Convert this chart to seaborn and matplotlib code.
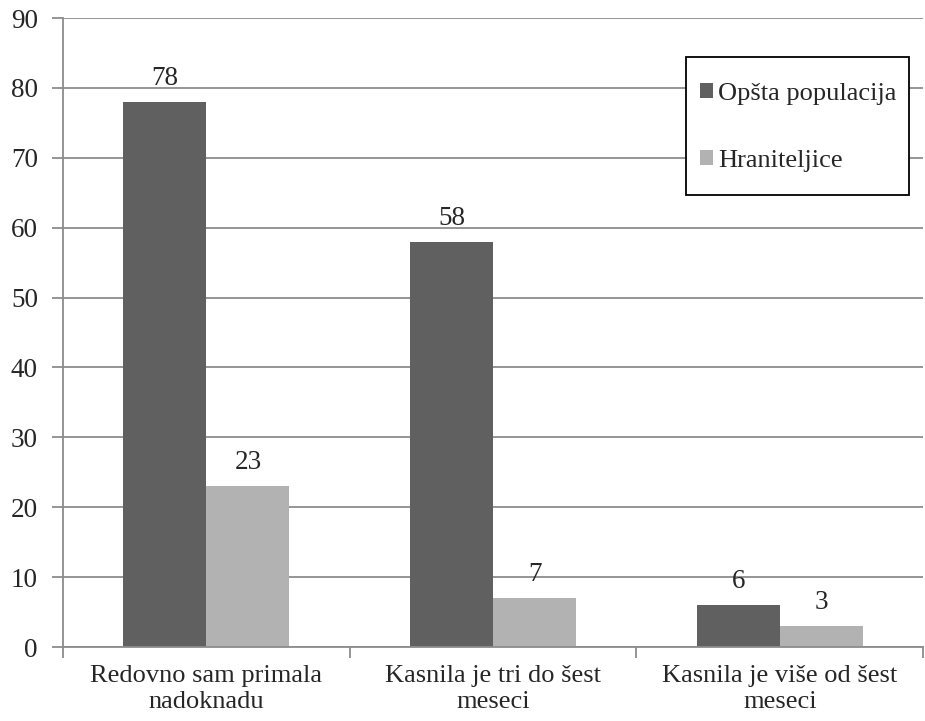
import pandas as pd
import matplotlib.pyplot as plt
from matplotlib.patches import Rectangle
import seaborn as sns

categories = ["Redovno sam primala\nnadoknadu", "Kasnila je tri do šest\nmeseci", "Kasnila je više od šest\nmeseci"]
groups = ["Opšta populacija", "Hraniteljice"]
opsta = [78, 58, 6]
hraniteljice = [23, 7, 3]

df = pd.DataFrame({
    "kategorija": categories * 2,
    "grupa": [groups[0]] * 3 + [groups[1]] * 3,
    "vrednost": opsta + hraniteljice,
})

sns.set_style("white")
plt.rcParams["font.family"] = ["Liberation Serif", "DejaVu Serif"]

fig = plt.figure(figsize=(9.25, 7.21), dpi=100)
ax = fig.add_axes([0.068, 0.1026, 0.93, 0.8724])

sns.barplot(data=df, x="kategorija", y="vrednost", hue="grupa",
            palette=["#606060", "#b2b2b2"], width=0.58, gap=0,
            saturation=1, edgecolor="none", linewidth=0, ax=ax)

for c in ax.containers:
    ax.bar_label(c, fmt="%d", padding=8, fontsize=19.5)

ax.set_ylim(0, 90)
ax.set_xlim(-0.5, 2.5)
ax.set_yticks(range(0, 91, 10))
ax.yaxis.grid(True, color="#8c8c8c", linewidth=1.3)
ax.set_axisbelow(True)
ax.set_xlabel("")
ax.set_ylabel("")

for s in ["top", "right"]:
    ax.spines[s].set_visible(False)
for s in ["left", "bottom"]:
    ax.spines[s].set_color("#8c8c8c")
    ax.spines[s].set_linewidth(1.3)

ax.tick_params(axis="y", labelsize=19.5, length=8, width=1.3, color="#8c8c8c", left=True, pad=10)
ax.tick_params(axis="x", which="major", labelsize=19, length=0, pad=13)
for t in ax.get_xticklabels():
    t.set_linespacing(1.25)
ax.set_xticks([-0.5, 0.5, 1.5, 2.5], minor=True)
ax.tick_params(axis="x", which="minor", length=8, width=1.3, color="#8c8c8c", bottom=True)

# legend box drawn separately (Excel-like tight frame)
ax.add_patch(Rectangle((0.7244, 0.7186), 0.2593, 0.2194, transform=ax.transAxes,
                       facecolor="white", edgecolor="black", linewidth=1.3, zorder=5))
leg = ax.legend(loc="center", bbox_to_anchor=(0.8547, 0.826), fontsize=19,
                frameon=False, handlelength=0.5, handleheight=0.5, handletextpad=0.2,
                labelspacing=1.7, borderpad=0, borderaxespad=0)
leg.set_zorder(6)

fig.savefig("out.png", dpi=100)
